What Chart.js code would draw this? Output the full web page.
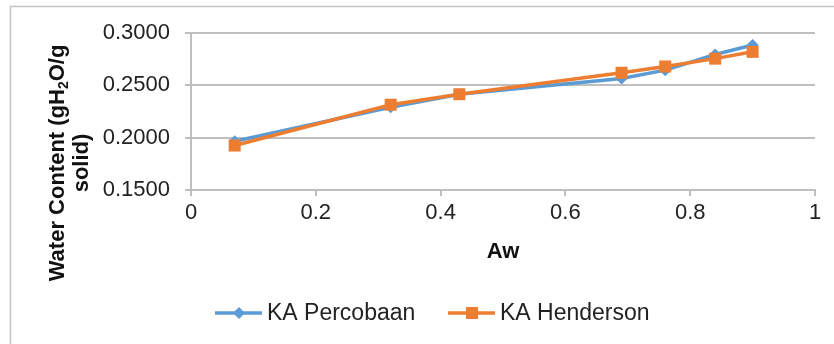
<!DOCTYPE html>
<html>
<head>
<meta charset="utf-8">
<script src="https://cdn.jsdelivr.net/npm/chart.js@4.4.1/dist/chart.umd.min.js"></script>
<style>
  body { margin: 0; background: #fff; }
  #wrap { width: 834px; height: 344px; }
</style>
</head>
<body>
<div id="wrap"><canvas id="chart" width="834" height="344"></canvas></div>
<script>
const awValues = [0.07, 0.32, 0.43, 0.69, 0.76, 0.84, 0.90];
const kaPercobaan = [0.1965, 0.2290, 0.2415, 0.2565, 0.2645, 0.2795, 0.2885];
const kaHenderson = [0.1925, 0.2315, 0.2415, 0.2620, 0.2680, 0.2755, 0.2820];
const seriesNames = ['KA Percobaan', 'KA Henderson'];
const xTickLabels = ['0', '0.2', '0.4', '0.6', '0.8', '1'];
const yTickLabels = ['0.1500', '0.2000', '0.2500', '0.3000'];

const BLUE = '#5b9bd5';
const ORANGE = '#ed7d31';
const GRID = '#bfbfbf';
const FONT = '"Liberation Sans", Arial, sans-serif';

Chart.defaults.font.family = FONT;
Chart.defaults.color = '#222';

const toPoints = (ys) => awValues.map((x, i) => ({ x: x, y: ys[i] }));

// frame, y-axis title (with subscript) and the legend
const extras = {
    id: 'extras',
    beforeDraw(chart) {
        const ctx = chart.ctx;
        ctx.save();
        ctx.strokeStyle = '#c4c4c4';
        ctx.lineWidth = 1.5;
        ctx.beginPath();
        ctx.moveTo(10.5, 400);
        ctx.lineTo(10.5, 6.5);
        ctx.lineTo(900, 6.5);
        ctx.stroke();
        ctx.restore();
    },
    afterDraw(chart) {
        const ctx = chart.ctx;

        // y title
        ctx.save();
        ctx.fillStyle = '#111';
        ctx.textBaseline = 'middle';
        ctx.translate(58, 163);
        ctx.rotate(-Math.PI / 2);
        const parts = [
            { t: 'Water Content (gH', f: 'bold 22px ' + FONT, dy: 0 },
            { t: '2', f: 'bold 14px ' + FONT, dy: 6 },
            { t: 'O/g', f: 'bold 22px ' + FONT, dy: 0 }
        ];
        let total = 0;
        parts.forEach(p => { ctx.font = p.f; p.w = ctx.measureText(p.t).width; total += p.w; });
        let px = -total / 2;
        ctx.textAlign = 'left';
        parts.forEach(p => { ctx.font = p.f; ctx.fillText(p.t, px, p.dy); px += p.w; });
        ctx.restore();

        ctx.save();
        ctx.fillStyle = '#111';
        ctx.textBaseline = 'middle';
        ctx.textAlign = 'center';
        ctx.font = 'bold 22px ' + FONT;
        ctx.translate(82, 163);
        ctx.rotate(-Math.PI / 2);
        ctx.fillText('solid)', 0, 0);
        ctx.restore();

        // legend
        const items = [
            { x: 215, color: BLUE, style: 'rectRot', r: 6 },
            { x: 448, color: ORANGE, style: 'rect', r: 8.5 }
        ];
        const ly = 313;
        items.forEach((it, i) => {
            ctx.save();
            ctx.strokeStyle = it.color;
            ctx.lineWidth = 3.5;
            ctx.beginPath();
            ctx.moveTo(it.x, ly);
            ctx.lineTo(it.x + 47, ly);
            ctx.stroke();
            ctx.fillStyle = it.color;
            Chart.helpers.drawPoint(ctx, { pointStyle: it.style, radius: it.r, borderWidth: 0 }, it.x + 24, ly);
            ctx.fillStyle = '#222';
            ctx.font = '23px ' + FONT;
            ctx.textBaseline = 'middle';
            ctx.textAlign = 'left';
            ctx.fillText(seriesNames[i], it.x + 52, ly + 1);
            ctx.restore();
        });
    }
};

new Chart(document.getElementById('chart'), {
    type: 'scatter',
    data: {
        datasets: [{
            label: seriesNames[0],
            data: toPoints(kaPercobaan),
            showLine: true,
            borderColor: BLUE,
            backgroundColor: BLUE,
            borderWidth: 3.5,
            pointStyle: 'rectRot',
            pointRadius: 6,
            pointBorderWidth: 0,
            order: 1
        }, {
            label: seriesNames[1],
            data: toPoints(kaHenderson),
            showLine: true,
            borderColor: ORANGE,
            backgroundColor: ORANGE,
            borderWidth: 3.5,
            pointStyle: 'rect',
            pointRadius: 8.5,
            pointBorderWidth: 0,
            order: 0
        }]
    },
    options: {
        responsive: false,
        animation: false,
        layout: { padding: { top: 33, right: 19, left: 0, bottom: 0 } },
        plugins: {
            legend: { display: false },
            tooltip: { enabled: false }
        },
        scales: {
            x: {
                type: 'linear',
                min: 0,
                max: 1,
                ticks: {
                    stepSize: 0.2,
                    padding: 4,
                    maxRotation: 0,
                    font: { size: 22 },
                    color: '#222',
                    callback: (v, i) => xTickLabels[i]
                },
                grid: { drawOnChartArea: false, drawTicks: true, tickLength: 6, color: GRID, lineWidth: 2 },
                border: { display: true, color: GRID, width: 2 },
                title: {
                    display: true,
                    text: 'Aw',
                    color: '#111',
                    font: { size: 22, weight: 'bold' },
                    padding: { top: 0, bottom: 79 }
                },
                afterFit: (scale) => { scale.height = 154; }
            },
            y: {
                min: 0.15,
                max: 0.3,
                ticks: {
                    stepSize: 0.05,
                    padding: 15,
                    font: { size: 22 },
                    color: '#222',
                    callback: (v, i) => yTickLabels[i]
                },
                grid: { color: GRID, lineWidth: 2, drawTicks: true, tickLength: 6 },
                border: { display: true, color: GRID, width: 2 },
                afterFit: (scale) => { scale.width = 191; }
            }
        }
    },
    plugins: [extras]
});
</script>
</body>
</html>
